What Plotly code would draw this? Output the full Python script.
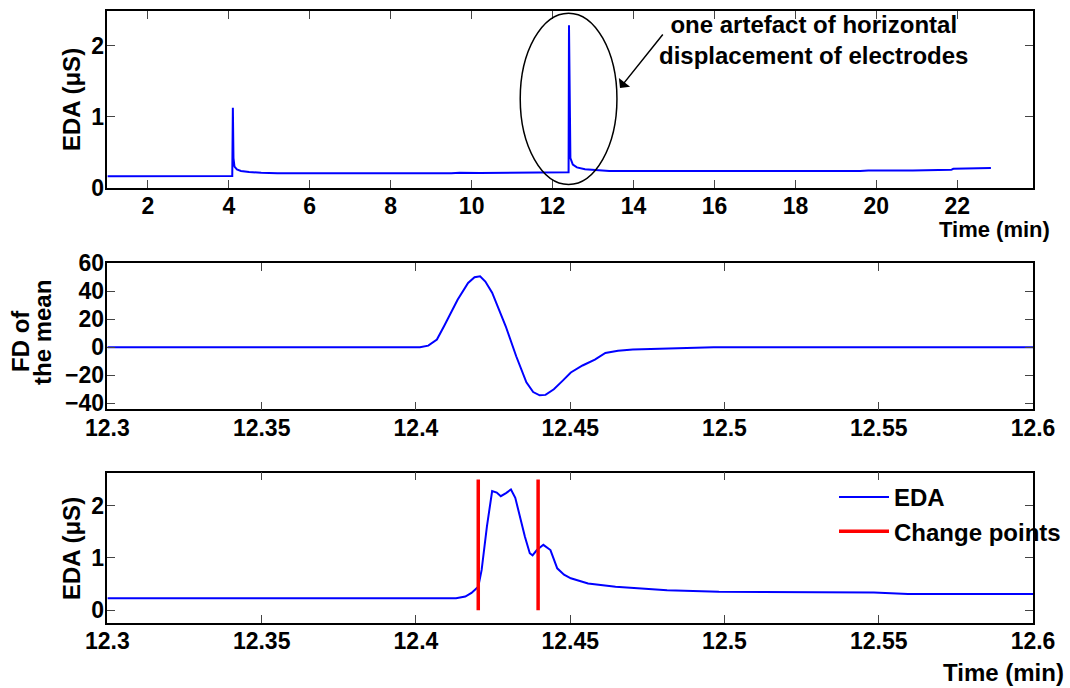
import plotly.graph_objects as go

# ---------------- data ----------------
# Panel 1: whole recording
top_time = [1.0, 4.06, 4.085, 4.10, 4.115, 4.14, 4.2, 4.3, 4.5, 4.8, 5.2, 9.5, 9.7, 10.2, 12.0, 12.38, 12.395, 12.405, 12.42, 12.44,
            12.5, 12.6, 12.8, 13.1, 13.4, 19.6, 19.8, 20.9, 21.85, 21.9, 22.83]
top_eda = [0.165, 0.165, 0.17, 1.13, 0.42, 0.3, 0.26, 0.24, 0.225, 0.215, 0.208, 0.208, 0.215, 0.212, 0.215, 0.218, 0.22, 2.29, 0.7, 0.42,
           0.33, 0.29, 0.265, 0.25, 0.238, 0.238, 0.245, 0.245, 0.255, 0.27, 0.28]

# Panel 2: first derivative of the mean
fd_time = [12.3, 12.4013, 12.404, 12.4068, 12.4091, 12.4113, 12.4135, 12.4169, 12.419, 12.4208, 12.4225, 12.4247,
           12.4291, 12.4325, 12.4358, 12.438, 12.4401, 12.442, 12.4447, 12.4475, 12.4502, 12.454, 12.458,
           12.4614, 12.4655, 12.4703, 12.4781, 12.4965, 12.6]
fd_mean = [0, 0, 1.2, 5.5, 15, 25, 34, 46, 50, 50.7, 47, 39,
           15, -6.4, -25, -32, -34.3, -34, -30, -24, -18, -13, -8.8,
           -4, -2.5, -1.6, -1, 0, 0]

# Panel 3: EDA around the artefact
eda_time = [12.3, 12.413, 12.416, 12.418, 12.4202, 12.4213, 12.423, 12.4247, 12.4262, 12.4275, 12.4292, 12.4308, 12.4322,
            12.4336, 12.4353, 12.4369, 12.4378, 12.4392, 12.4413, 12.4436, 12.4458, 12.448, 12.4502, 12.4558, 12.4647,
            12.4814, 12.4982, 12.5484, 12.5595, 12.6]
eda_val = [0.23, 0.23, 0.26, 0.33, 0.45, 0.77, 1.6, 2.28, 2.25, 2.18, 2.24, 2.31, 2.15,
           1.8, 1.41, 1.09, 1.05, 1.15, 1.25, 1.15, 0.8, 0.68, 0.61, 0.51, 0.45,
           0.38, 0.35, 0.34, 0.31, 0.31]

change_points = [12.4202, 12.4396]
cp_low, cp_high = 0.0, 2.5

top_xticks = [2, 4, 6, 8, 10, 12, 14, 16, 18, 20, 22]
eda_yticks = [0, 1, 2]
zoom_xticks = [12.3, 12.35, 12.4, 12.45, 12.5, 12.55, 12.6]
zoom_xlabels = ["12.3", "12.35", "12.4", "12.45", "12.5", "12.55", "12.6"]
fd_yticks = [-40, -20, 0, 20, 40, 60]

# ---------------- figure ----------------
W, H = 1070, 688
FONT = "Arial, Liberation Sans, sans-serif"
BLUE = "#0000FF"
RED = "#FF0000"


def px(x):
    return x / W


def py(y):
    return 1 - y / H


cp_x, cp_y = [], []
for c in change_points:
    cp_x += [c, c, None]
    cp_y += [cp_low, cp_high, None]

fig = go.Figure()
fig.add_trace(go.Scatter(x=top_time, y=top_eda, mode="lines", line=dict(color=BLUE, width=2),
                         xaxis="x", yaxis="y", showlegend=False))
fig.add_trace(go.Scatter(x=fd_time, y=fd_mean, mode="lines", line=dict(color=BLUE, width=2),
                         xaxis="x2", yaxis="y2", showlegend=False))
fig.add_trace(go.Scatter(x=eda_time, y=eda_val, mode="lines", line=dict(color=BLUE, width=2),
                         xaxis="x3", yaxis="y3", name="EDA", legendgroup="a"))
fig.add_trace(go.Scatter(x=cp_x, y=cp_y, mode="lines", line=dict(color=RED, width=3.5),
                         xaxis="x3", yaxis="y3", name="Change points", legendgroup="b"))

tickfont = dict(family=FONT, size=23, color="black", weight="bold")
common = dict(showline=True, linecolor="black", linewidth=1.5, mirror="ticks", ticks="inside",
              ticklen=8, tickwidth=1, tickcolor="#444", showgrid=False, zeroline=False,
              tickfont=tickfont, automargin=False)
xcommon = dict(common, ticklabelstandoff=-3)
ycommon = dict(common, ticklabelstandoff=-3)

xdom = [px(107.4), px(1033)]
fig.update_layout(
    width=W, height=H,
    margin=dict(l=0, r=0, t=0, b=0),
    paper_bgcolor="white", plot_bgcolor="white",
    xaxis=dict(domain=xdom, range=[1, 23.87], tickvals=top_xticks, anchor="y", **xcommon),
    yaxis=dict(domain=[py(188), py(11)], range=[0, 2.49], tickvals=eda_yticks, anchor="x", **ycommon),
    xaxis2=dict(domain=xdom, range=[12.3, 12.6], tickvals=zoom_xticks, ticktext=zoom_xlabels, anchor="y2", **xcommon),
    yaxis2=dict(domain=[py(409.3), py(263.3)], range=[-44.3, 60], tickvals=fd_yticks, anchor="x2", **ycommon),
    xaxis3=dict(domain=xdom, range=[12.3, 12.6], tickvals=zoom_xticks, ticktext=zoom_xlabels, anchor="y3", **xcommon),
    yaxis3=dict(domain=[py(622.7), py(472.7)], range=[-0.24, 2.63], tickvals=eda_yticks, anchor="x3", **ycommon),
    showlegend=True,
    legend=dict(x=px(834), y=py(475), xanchor="left", yanchor="top", bgcolor="rgba(0,0,0,0)",
                font=dict(family=FONT, size=24, color="black", weight="bold"), tracegroupgap=0,
                itemwidth=50),
)

fig.add_shape(type="circle", xref="x", yref="y", x0=11.2, x1=13.59, y0=0.05, y1=2.46,
              line=dict(color="black", width=1.5))

title_font = dict(family=FONT, size=24, color="black", weight="bold")
ann = [
    dict(text="EDA (μS)", x=px(71), y=py(100), textangle=-90),
    dict(text="FD of", x=px(20), y=py(341), textangle=-90),
    dict(text="the mean", x=px(42), y=py(333), textangle=-90),
    dict(text="EDA (μS)", x=px(71), y=py(549), textangle=-90),
    dict(text="Time (min)", x=px(1052), y=py(229), xanchor="right", font=dict(family=FONT, size=22, color="black", weight="bold")),
    dict(text="Time (min)", x=px(1066), y=py(672), xanchor="right", font=dict(family=FONT, size=24, color="black", weight="bold")),
    dict(text="one artefact of horizontal<br>displacement of electrodes", x=px(813), y=py(40)),
]
for a in ann:
    base = dict(xref="paper", yref="paper", showarrow=False, xanchor="center", yanchor="middle", font=title_font)
    base.update(a)
    fig.add_annotation(**base)

fig.add_annotation(xref="paper", yref="paper", x=px(620), y=py(88), text="", showarrow=True,
                   axref="pixel", ayref="pixel", ax=44, ay=-55, arrowhead=1, arrowsize=1.6,
                   arrowwidth=1.5, arrowcolor="black")

fig.write_html("out.html")
